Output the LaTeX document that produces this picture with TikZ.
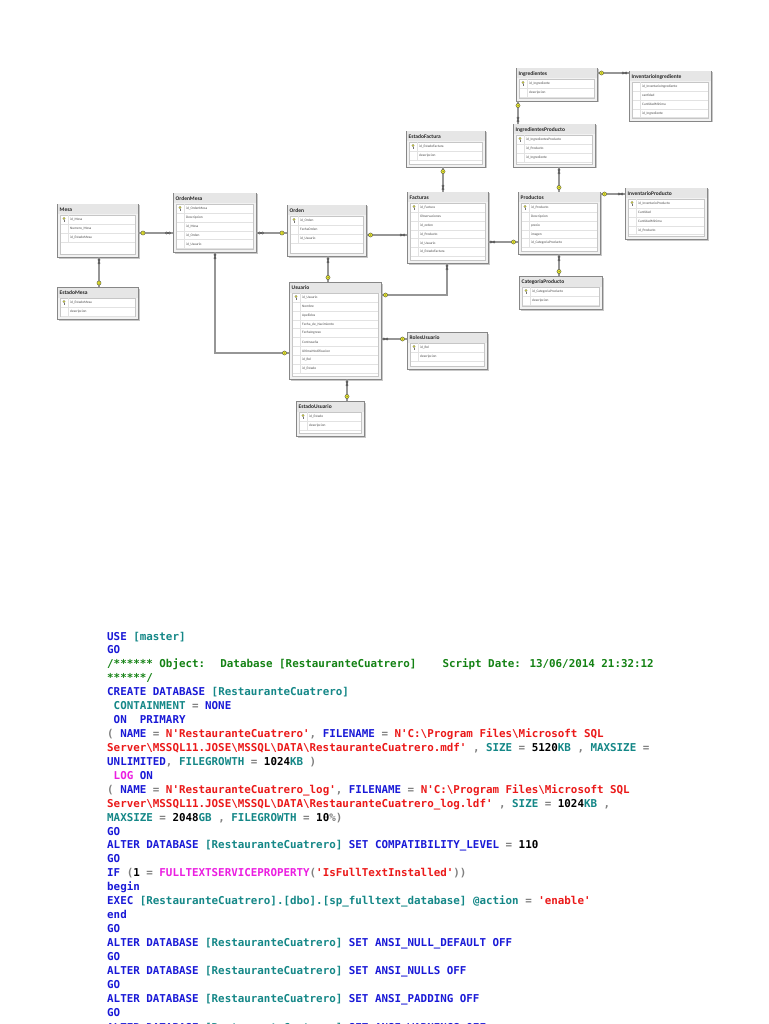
\documentclass[tikz,border=0pt]{standalone}
\usepackage{fontspec}
\setmainfont{Carlito}
\newfontfamily\codefont{DejaVu Sans Mono}
\definecolor{sqlblue}{RGB}{25,25,215}
\definecolor{sqlteal}{RGB}{20,135,135}
\definecolor{sqlred}{RGB}{235,25,25}
\definecolor{sqlgreen}{RGB}{20,130,20}
\definecolor{sqlgray}{RGB}{128,128,128}
\definecolor{sqlmag}{RGB}{235,30,225}
\definecolor{keyyel}{RGB}{232,232,40}
\definecolor{boxborder}{RGB}{135,135,135}
\definecolor{boxshadow}{RGB}{200,200,200}
\definecolor{boxfill}{RGB}{242,242,242}
\definecolor{titlefill}{RGB}{230,230,230}
\definecolor{panelborder}{RGB}{198,198,198}
\definecolor{rowline}{RGB}{226,226,226}
\definecolor{relgray}{RGB}{150,150,150}
\newcommand\Skw[1]{\textcolor{sqlblue}{#1}}
\newcommand\Sid[1]{\textcolor{sqlteal}{#1}}
\newcommand\Sst[1]{\textcolor{sqlred}{#1}}
\newcommand\Scm[1]{\textcolor{sqlgreen}{#1}}
\newcommand\Sop[1]{\textcolor{sqlgray}{#1}}
\newcommand\Sfn[1]{\textcolor{sqlmag}{#1}}
\newcommand\bs{\textbackslash}
\newcommand\ertable[8]{%
  \fill[boxshadow] ({#2+1.5},{#3+1.5}) rectangle ({#4+1.5},{#5+1.5});
  \node[tbl, minimum width={#4-#2}, minimum height={#5-#3}] (#1) at ({(#2+#4)/2},{(#3+#5)/2}) {};
  \fill[titlefill] ({#2+0.5},{#3+0.5}) rectangle ({#4-0.5},{#3+10.5});
  \node[ttl, anchor=west] (#1-title) at ({#2+2.5},{#3+6}) {#6};
  \draw[panel] ({#2+3},{#3+11}) rectangle ({#4-3},{#5-3});
  \foreach \rt [count=\ri from 0] in {#7} {
    \draw[rowsep] ({#2+3.5},{#3+11+8.9*(\ri+1)}) -- ({#4-3.5},{#3+11+8.9*(\ri+1)});
    \draw[rowsep] ({#2+11},{#3+11+8.9*\ri}) -- ({#2+11},{#3+11+8.9*(\ri+1)});
    \node[rowtxt, anchor=west] (#1-r\ri) at ({#2+13},{#3+15.45+8.9*\ri}) {\rt};
  }
  \ifnum#8=1 \pic at ({#2+7},{#3+15.45}) {pkkey};\fi
}
\begin{document}
\begin{tikzpicture}[x=1pt,y=-1pt,
  tbl/.style={draw=boxborder, line width=0.8, fill=boxfill, inner sep=0, outer sep=0, rectangle},
  ttl/.style={font=\bfseries\fontsize{5.5}{6}\selectfont, inner sep=0, text=black!85},
  rowtxt/.style={font=\fontsize{3.5}{4}\selectfont, inner sep=0, text=black!70},
  panel/.style={draw=panelborder, fill=white, line width=0.4},
  rowsep/.style={draw=rowline, line width=0.35},
  rel/.style={draw=relgray, line width=2},
  codeline/.style={anchor=base west, inner sep=0, font=\codefont\bfseries\fontsize{10.85}{13}\selectfont},
  pkkey/.pic={\draw[black!55, line width=0.3, fill=keyyel] (0,-1) circle (1.2);
              \draw[black!55, line width=0.45] (0,0.2) -- (0,2.6) (0,1.8) -- (0.9,1.8);},
  keym/.pic={\draw[black!70, line width=0.35, fill=keyyel] (0,0) circle (2.1);
             \fill[black!70] (0,0) circle (0.5);},
  infm/.pic={\draw[black!70, line width=0.45] (0,0) .. controls (0.9,1.5) and (2.6,1.5) .. (2.6,0)
             .. controls (2.6,-1.5) and (0.9,-1.5) .. (0,0)
             .. controls (-0.9,1.5) and (-2.6,1.5) .. (-2.6,0)
             .. controls (-2.6,-1.5) and (-0.9,-1.5) .. (0,0);}
]
\useasboundingbox (0,0) rectangle (768,1024);
\clip (0,0) rectangle (768,1024);
\fill[white] (0,0) rectangle (768,1024);

% ---------------- tables ----------------
\ertable{mesa}{57}{204}{138}{257}{Mesa}{id\_Mesa,Numero\_Mesa,id\_EstadoMesa}{1}
\ertable{estadomesa}{57}{287}{138}{319}{EstadoMesa}{id\_EstadoMesa,descripcion}{1}
\ertable{ordenmesa}{173}{193}{256}{252}{OrdenMesa}{id\_OrdenMesa,Descripcion,id\_Mesa,id\_Orden,id\_Usuario}{1}
\ertable{orden}{287}{205}{366}{256}{Orden}{id\_Orden,FechaOrden,id\_Usuario}{1}
\ertable{facturas}{407}{192}{488}{263}{Facturas}{id\_Factura,Observaciones,id\_orden,id\_Producto,id\_Usuario,id\_EstadoFactura}{1}
\ertable{estadofactura}{406}{131}{485}{167}{EstadoFactura}{id\_EstadoFactura,descripcion}{1}
\ertable{productos}{518}{192}{600}{254}{Productos}{id\_Producto,Descripcion,precio,imagen,id\_CategoriaProducto}{1}
\ertable{ingprod}{513}{124}{595}{167}{IngredientesProducto}{id\_IngredientesProducto,id\_Producto,id\_Ingrediente}{1}
\ertable{ingredientes}{516}{68}{597}{101}{Ingredientes}{id\_Ingrediente,descripcion}{1}
\ertable{invingred}{629}{71}{711}{121}{InventarioIngrediente}{id\_InventarioIngrediente,cantidad,CantidadMinima,id\_Ingrediente}{0}
\ertable{invprod}{625}{188}{707}{239}{InventarioProducto}{id\_InventarioProducto,Cantidad,CantidadMinima,id\_Producto}{1}
\ertable{categoria}{519}{276}{602}{309}{CategoriaProducto}{id\_CategoriaProducto,descripcion}{1}
\ertable{usuario}{289}{282}{381}{379}{Usuario}{id\_Usuario,Nombre,Apellidos,Fecha\_de\_Nacimiento,FechaIngreso,Contraseña,UltimaModificacion,id\_Rol,id\_Estado}{1}
\ertable{roles}{407}{332}{487}{369}{RolesUsuario}{id\_Rol,descripcion}{1}
\ertable{estadousuario}{296}{401}{364}{436}{EstadoUsuario}{id\_Estado,descripcion}{1}

% ---------------- relationships ----------------
\draw[rel] (99,0 |- mesa.south) -- (99,0 |- estadomesa.north);
\pic[rotate=90] at (99,261.5) {infm}; \pic at (99,283) {keym};

\draw[rel] (mesa.east |- 0,233) -- (ordenmesa.west |- 0,233);
\pic at (143,233) {keym}; \pic at (168,233) {infm};

\draw[rel] (ordenmesa.east |- 0,233) -- (orden.west |- 0,233);
\pic at (261,233) {infm}; \pic at (282,233) {keym};

\draw[rel] (215,0 |- ordenmesa.south) |- (usuario.west |- 0,353);
\pic[rotate=90] at (215,256.5) {infm}; \pic at (284.5,353) {keym};

\draw[rel] (orden.east |- 0,235) -- (facturas.west |- 0,235);
\pic at (370.5,235) {keym}; \pic at (402.5,235) {infm};

\draw[rel] (328,0 |- orden.south) -- (328,0 |- usuario.north);
\pic[rotate=90] at (328,260.5) {infm}; \pic at (328,277.5) {keym};

\draw[rel] (447,0 |- facturas.south) |- (usuario.east |- 0,295);
\pic[rotate=90] at (447,267.5) {infm}; \pic at (385.5,295) {keym};

\draw[rel] (443,0 |- estadofactura.south) -- (443,0 |- facturas.north);
\pic at (443,171.5) {keym}; \pic[rotate=90] at (443,187.5) {infm};

\draw[rel] (facturas.east |- 0,242) -- (productos.west |- 0,242);
\pic at (492.5,242) {infm}; \pic at (513.5,242) {keym};

\draw[rel] (559,0 |- ingprod.south) -- (559,0 |- productos.north);
\pic[rotate=90] at (559,171.5) {infm}; \pic at (559,187.5) {keym};

\draw[rel] (productos.east |- 0,194) -- (invprod.west |- 0,194);
\pic at (604.5,194) {keym}; \pic at (620.5,194) {infm};

\draw[rel] (559,0 |- productos.south) -- (559,0 |- categoria.north);
\pic[rotate=90] at (559,258.5) {infm}; \pic at (559,271.5) {keym};

\draw[rel] (ingredientes.east |- 0,73) -- (invingred.west |- 0,73);
\pic at (601.5,73) {keym}; \pic at (624.5,73) {infm};

\draw[rel] (518,0 |- ingredientes.south) -- (518,0 |- ingprod.north);
\pic at (518,105.5) {keym}; \pic[rotate=90] at (518,119.5) {infm};

\draw[rel] (usuario.east |- 0,339) -- (roles.west |- 0,339);
\pic at (385.5,339) {infm}; \pic at (402.5,339) {keym};

\draw[rel] (347,0 |- usuario.south) -- (347,0 |- estadousuario.north);
\pic[rotate=90] at (347,383.5) {infm}; \pic at (347,396.5) {keym};

% ---------------- SQL script ----------------
\node[codeline] (code1) at (107,640) {\Skw{USE} \Sid{[master]}};
\node[codeline] (code2) at (107,653.93) {\Skw{GO}};
\node[codeline] (code3) at (107,667.86) {\Scm{/****** Object:~ Database [RestauranteCuatrero]~~~ Script Date: 13/06/2014 21:32:12}};
\node[codeline] (code4) at (107,681.79) {\Scm{******/}};
\node[codeline] (code5) at (107,695.72) {\Skw{CREATE DATABASE} \Sid{[RestauranteCuatrero]}};
\node[codeline] (code6) at (107,709.65) {~\Sid{CONTAINMENT} \Sop{=} \Skw{NONE}};
\node[codeline] (code7) at (107,723.58) {~\Skw{ON~ PRIMARY}};
\node[codeline] (code8) at (107,737.51) {\Sop{(} \Skw{NAME} \Sop{=} \Sst{N'RestauranteCuatrero'}\Sop{,} \Skw{FILENAME} \Sop{=} \Sst{N'C:\bs Program Files\bs Microsoft SQL}};
\node[codeline] (code9) at (107,751.44) {\Sst{Server\bs MSSQL11.JOSE\bs MSSQL\bs DATA\bs RestauranteCuatrero.mdf'} \Sop{,} \Sid{SIZE} \Sop{=} 5120\Sid{KB} \Sop{,} \Sid{MAXSIZE} \Sop{=}};
\node[codeline] (code10) at (107,765.37) {\Skw{UNLIMITED}\Sop{,} \Sid{FILEGROWTH} \Sop{=} 1024\Sid{KB} \Sop{)}};
\node[codeline] (code11) at (107,779.30) {~\Sfn{LOG} \Skw{ON}};
\node[codeline] (code12) at (107,793.23) {\Sop{(} \Skw{NAME} \Sop{=} \Sst{N'RestauranteCuatrero\_log'}\Sop{,} \Skw{FILENAME} \Sop{=} \Sst{N'C:\bs Program Files\bs Microsoft SQL}};
\node[codeline] (code13) at (107,807.16) {\Sst{Server\bs MSSQL11.JOSE\bs MSSQL\bs DATA\bs RestauranteCuatrero\_log.ldf'} \Sop{,} \Sid{SIZE} \Sop{=} 1024\Sid{KB} \Sop{,}};
\node[codeline] (code14) at (107,821.09) {\Sid{MAXSIZE} \Sop{=} 2048\Sid{GB} \Sop{,} \Sid{FILEGROWTH} \Sop{=} 10\Sop{\%)}};
\node[codeline] (code15) at (107,835.02) {\Skw{GO}};
\node[codeline] (code16) at (107,848.95) {\Skw{ALTER DATABASE} \Sid{[RestauranteCuatrero]} \Skw{SET COMPATIBILITY\_LEVEL} \Sop{=} 110};
\node[codeline] (code17) at (107,862.88) {\Skw{GO}};
\node[codeline] (code18) at (107,876.81) {\Skw{IF} \Sop{(}1 \Sop{=} \Sfn{FULLTEXTSERVICEPROPERTY}\Sop{(}\Sst{'IsFullTextInstalled'}\Sop{))}};
\node[codeline] (code19) at (107,890.74) {\Skw{begin}};
\node[codeline] (code20) at (107,904.67) {\Skw{EXEC} \Sid{[RestauranteCuatrero].[dbo].[sp\_fulltext\_database]} \Sid{@action} \Sop{=} \Sst{'enable'}};
\node[codeline] (code21) at (107,918.60) {\Skw{end}};
\node[codeline] (code22) at (107,932.53) {\Skw{GO}};
\node[codeline] (code23) at (107,946.46) {\Skw{ALTER DATABASE} \Sid{[RestauranteCuatrero]} \Skw{SET ANSI\_NULL\_DEFAULT OFF}};
\node[codeline] (code24) at (107,960.39) {\Skw{GO}};
\node[codeline] (code25) at (107,974.32) {\Skw{ALTER DATABASE} \Sid{[RestauranteCuatrero]} \Skw{SET ANSI\_NULLS OFF}};
\node[codeline] (code26) at (107,988.25) {\Skw{GO}};
\node[codeline] (code27) at (107,1002.18) {\Skw{ALTER DATABASE} \Sid{[RestauranteCuatrero]} \Skw{SET ANSI\_PADDING OFF}};
\node[codeline] (code28) at (107,1016.11) {\Skw{GO}};
\node[codeline] (code29) at (107,1031.5) {\Skw{ALTER DATABASE} \Sid{[RestauranteCuatrero]} \Skw{SET ANSI\_WARNINGS OFF}};
\end{tikzpicture}
\end{document}
